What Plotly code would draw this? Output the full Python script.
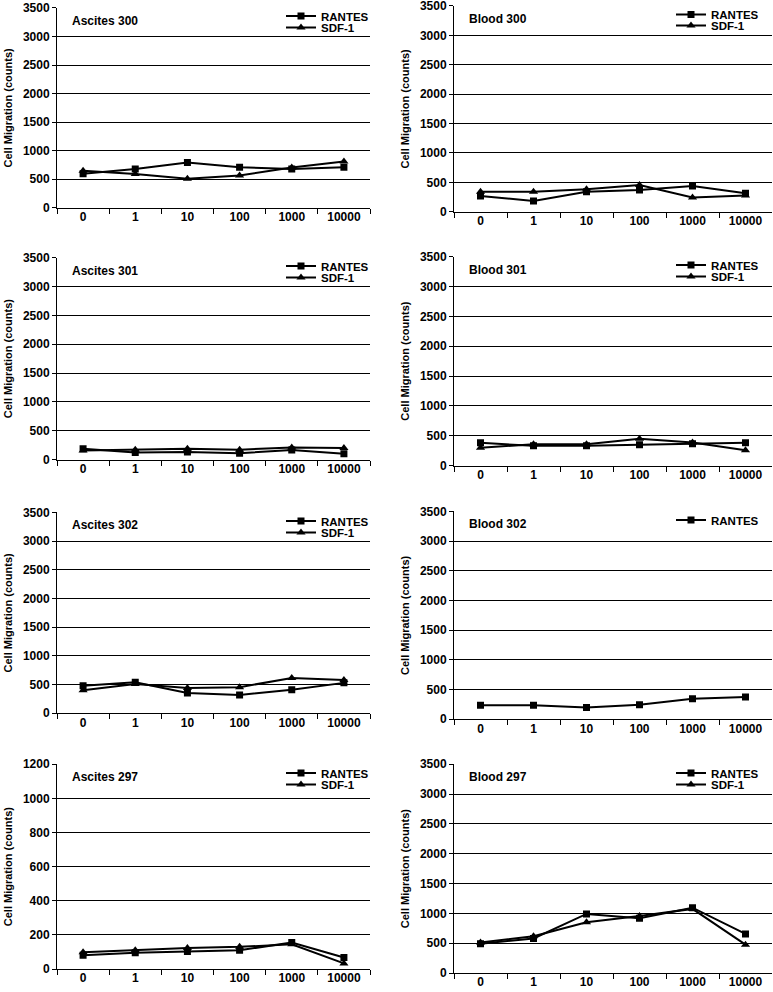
import plotly.graph_objects as go

categories = ["0", "1", "10", "100", "1000", "10000"]

a300_rantes = [595, 680, 795, 710, 680, 710]
a300_sdf1 = [650, 590, 510, 565, 705, 810]
b300_rantes = [270, 185, 340, 370, 440, 315]
b300_sdf1 = [340, 340, 385, 455, 245, 275]
a301_rantes = [185, 120, 130, 110, 165, 100]
a301_sdf1 = [155, 170, 185, 170, 210, 200]
b301_rantes = [380, 330, 330, 350, 365, 380]
b301_sdf1 = [300, 355, 355, 450, 385, 255]
a302_rantes = [480, 540, 355, 320, 410, 530]
a302_sdf1 = [400, 510, 440, 455, 615, 580]
b302_rantes = [235, 235, 200, 245, 345, 375]
a297_rantes = [80, 95, 102, 110, 155, 68]
a297_sdf1 = [98, 110, 123, 130, 145, 33]
b297_rantes = [490, 580, 990, 920, 1095, 655]
b297_sdf1 = [510, 615, 850, 955, 1075, 475]

titles = ["Ascites 300", "Blood 300", "Ascites 301", "Blood 301",
          "Ascites 302", "Blood 302", "Ascites 297", "Blood 297"]
series = [
    [("RANTES", a300_rantes), ("SDF-1", a300_sdf1)],
    [("RANTES", b300_rantes), ("SDF-1", b300_sdf1)],
    [("RANTES", a301_rantes), ("SDF-1", a301_sdf1)],
    [("RANTES", b301_rantes), ("SDF-1", b301_sdf1)],
    [("RANTES", a302_rantes), ("SDF-1", a302_sdf1)],
    [("RANTES", b302_rantes)],
    [("RANTES", a297_rantes), ("SDF-1", a297_sdf1)],
    [("RANTES", b297_rantes), ("SDF-1", b297_sdf1)],
]
ymax = [3500, 3500, 3500, 3500, 3500, 3500, 1200, 3500]
ydtick = [500, 500, 500, 500, 500, 500, 200, 500]

W, H = 773, 992
# pixel boxes: (left, right, top, bottom)
boxes = [
    (57, 370, 7, 207), (454, 772, 5, 211),
    (57, 370, 257, 459), (454, 772, 256, 465),
    (57, 370, 512, 713), (454, 772, 511, 719),
    (57, 370, 764, 969), (454, 772, 764, 973),
]
# legend text start (px) for left / right panels
legend_text_x = [321, 711]

FONT = "Liberation Sans, Arial, sans-serif"
fig = go.Figure()
layout = dict(
    template="none",
    width=W, height=H, margin=dict(l=0, r=0, t=0, b=0, pad=0),
    paper_bgcolor="white", plot_bgcolor="white",
    font=dict(family=FONT, color="black", size=12),
    showlegend=True,
)
annotations = []
symbols = {"RANTES": "square", "SDF-1": "triangle-up"}

leg_n = 0
for i, (l, r, t, b) in enumerate(boxes):
    k = "" if i == 0 else str(i + 1)
    xd = [l / W, r / W]
    yd = [1 - b / H, 1 - t / H]
    for j, (name, vals) in enumerate(series[i]):
        leg_n += 1
        lg = "legend" if leg_n == 1 else "legend" + str(leg_n)
        fig.add_trace(go.Scatter(
            x=categories, y=vals, name=name, mode="lines+markers",
            line=dict(color="black", width=2),
            marker=dict(symbol=symbols[name], size=7 if name == "RANTES" else 8,
                        color="black"),
            xaxis="x" + k, yaxis="y" + k, legend=lg,
        ))
        tx = legend_text_x[i % 2]
        ty = t + 9 + 11.5 * j
        layout[lg] = dict(
            x=(tx - 40) / W, xanchor="left", y=1 - ty / H, yanchor="middle",
            bgcolor="rgba(255,255,255,0)", borderwidth=0,
            font=dict(family=FONT, size=11.5, weight="bold", color="black"),
            tracegroupgap=0, itemwidth=30,
        )
    layout["xaxis" + k] = dict(
        domain=xd, anchor="y" + k, type="category", automargin=False,
        range=[-0.5, 5.5], tickson="boundaries", ticks="outside",
        ticklen=5, tickcolor="black", showline=True, linecolor="black",
        linewidth=1, showgrid=False, zeroline=False, ticklabelstandoff=-2,
        ticklabeloverflow="allow",
        tickfont=dict(family=FONT, size=12, weight="bold", color="black"),
    )
    layout["yaxis" + k] = dict(
        domain=yd, anchor="x" + k, range=[0, ymax[i]], dtick=ydtick[i],
        tick0=0, ticks="outside", ticklen=4, tickcolor="black", automargin=False,
        showline=True, linecolor="black", linewidth=1, ticklabeloverflow="allow",
        showgrid=True, gridcolor="black", gridwidth=1, zeroline=False,
        tickfont=dict(family=FONT, size=12, weight="bold", color="black"),
        title=dict(text="Cell Migration (counts)", standoff=8,
                   font=dict(family=FONT, size=11, weight="bold", color="black")),
    )
    annotations.append(dict(
        text=titles[i], xref="paper", yref="paper",
        x=(l + 13) / W, y=1 - (t + 13) / H, xanchor="left", yanchor="middle",
        showarrow=False,
        font=dict(family=FONT, size=12, weight="bold", color="black"),
    ))

layout["annotations"] = annotations
fig.update_layout(**layout)
fig.write_html("out.html", config={"displayModeBar": False},
               post_script="document.body.style.margin='0';document.body.style.overflow='hidden';")
